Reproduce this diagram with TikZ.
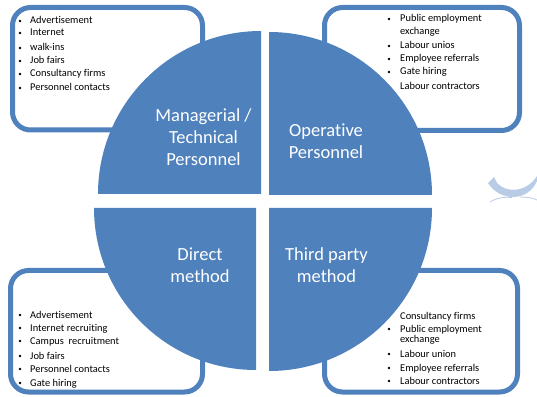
\documentclass[tikz,border=0pt]{standalone}
\usepackage{fontspec}
\setmainfont[Ligatures=NoCommon]{Carlito}
\definecolor{quadblue}{HTML}{4F81BD}
\definecolor{swooshblue}{HTML}{B9CCE5}

\begin{document}
\begin{tikzpicture}[x=1pt, y=1pt]
	\tikzset{
	    box/.style={draw=quadblue, line width=5pt, fill=white, rounded corners=18pt},
	    entry/.style={anchor=base west, inner sep=0pt, font=\fontsize{10.4}{11}\selectfont},
	    quad/.style={fill=quadblue},
	    quadtext/.style={text=white, align=center, inner sep=0pt,
	        font=\fontsize{18.5}{22}\selectfont},
	}
	\useasboundingbox (0,0) rectangle (537,396);

	% the four lists sit behind the circle
	\draw[box] (12.5,388.5) rectangle (202.5,266);
	\draw[box] (324.5,388.5) rectangle (519.5,265.5);
	\draw[box] (10.5,125.5) rectangle (202.5,4);
	\draw[box] (324.5,125.5) rectangle (517.5,4);

	% top left
	\foreach \y/\txt [count=\i] in {372/Advertisement, 360/Internet, 345/walk-ins,
	    332/Job fairs, 319/Consultancy firms, 305/Personnel contacts} {
	    \fill (20,\y+3) circle (1.3);
	    \node[entry] (tl\i) at (30,\y) {\txt};
	    }
	% top right
	\foreach \y/\txt [count=\i] in {374/Public employment, 347/Labour unios,
	    334/Employee referrals, 321/Gate hiring, 306/Labour contractors} {
	    \fill (389,\y+3) circle (1.3);
	    \node[entry] (tr\i) at (400,\y) {\txt};
	    }
	\node[entry] (tr0) at (400,361) {exchange};
	% bottom left
	\foreach \y/\txt [count=\i] in {78/Advertisement, 65/Internet recruiting,
	    52/Campus\ \ recruitment, 37/Job fairs, 24/Personnel contacts, 10/Gate hiring} {
	    \fill (20,\y+3) circle (1.3);
	    \node[entry] (bl\i) at (30,\y) {\txt};
	    }
	% bottom right
	\foreach \y/\txt [count=\i] in {77/Consultancy firms, 64/Public employment,
	    39/Labour union, 25/Employee referrals, 12/Labour contractors} {
	    \fill (389,\y+3) circle (1.3);
	    \node[entry] (br\i) at (400,\y) {\txt};
	    }
	\node[entry] (br0) at (400,54) {exchange};

	% circle cut in four
	\fill[quad] (261,202) -- ++(180:163) arc[start angle=180, end angle=90, radius=163] -- cycle;
	\fill[quad] (269,201) -- ++(0:163) arc[start angle=0, end angle=90, radius=163] -- cycle;
	\fill[quad] (256,188) -- ++(180:162) arc[start angle=180, end angle=270, radius=162] -- cycle;
	\fill[quad] (269,188) -- ++(0:163) arc[start angle=0, end angle=-90, radius=163] -- cycle;

	\node[quadtext] (mgr) at (203.5,259) {Managerial /\\Technical\\Personnel};
	\node[quadtext] (opr) at (326,254.5) {Operative\\Personnel};
	\node[quadtext] (dir) at (200,130.5) {Direct\\method};
	\node[quadtext] (thp) at (326.5,130.5) {Third party\\method};

	% small swoosh on the right
	\fill[swooshblue] (488,213) .. controls (500,194) and (528,194) .. (537,215)
	    -- (537,220) .. controls (526,203) and (506,203) .. (497,213)
	    -- (494,219) -- cycle;
	\draw[swooshblue, line width=0.8pt] (490,194) .. controls (498,199) and (505,199) .. (512,198.5);
	\draw[swooshblue, line width=0.8pt] (520,199) .. controls (528,199) and (533,198) .. (537,196);
\end{tikzpicture}
\end{document}
